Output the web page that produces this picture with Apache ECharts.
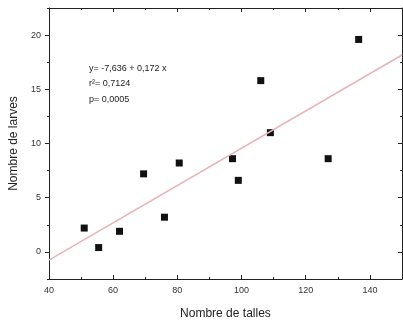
<!DOCTYPE html>
<html>
<head>
<meta charset="utf-8">
<script src="https://cdn.jsdelivr.net/npm/echarts@6/dist/echarts.min.js"></script>
<style>
  html, body { margin: 0; padding: 0; background: #fff; }
  #chart { width: 403px; height: 328px; }
</style>
</head>
<body>
<div id="chart"></div>
<script>
// Tillers per plant vs. larvae count
const talles = [51, 55.5, 62, 69.5, 76, 80.6, 97.2, 99, 106, 109, 127, 136.5];
const larves = [2.2, 0.4, 1.9, 7.2, 3.2, 8.2, 8.6, 6.6, 15.8, 11, 8.6, 19.6];

// Fitted regression: y = intercept + slope * x
const intercept = -7.636;
const slope = 0.172;
const fitRange = [40, 150];
const statLines = ['y= -7,636 + 0,172 x', 'r\u00b2= 0,7124', 'p= 0,0005'];

const xLabelTicks = [40, 60, 80, 100, 120, 140];
const yLabelTicks = [0, 5, 10, 15, 20];
const yMinorTicks = [-2.5, 2.5, 7.5, 12.5, 17.5, 22.5];

const font = '"Liberation Sans", Arial, sans-serif';
const axisColor = '#222';

const points = talles.map((x, i) => [x, larves[i]]);
const fitLine = fitRange.map(x => [x, intercept + slope * x]);

const baseX = {
  type: 'value', min: 40, max: 150, interval: 20,
  splitLine: { show: false },
  axisLine: { show: true, onZero: false, lineStyle: { color: axisColor, width: 1 } },
  axisTick: { show: true, inside: true, length: 4, lineStyle: { color: axisColor } },
  minorTick: { show: true, splitNumber: 2, length: 2, lineStyle: { color: axisColor } },
  minorSplitLine: { show: false }
};
const baseY = {
  type: 'value', min: -2.5, max: 22.5,
  splitLine: { show: false },
  axisLine: { show: true, onZero: false, lineStyle: { color: axisColor, width: 1 } },
  axisTick: { show: true, inside: true, length: 4, customValues: yLabelTicks, lineStyle: { color: axisColor } }
};

const chart = echarts.init(document.getElementById('chart'));
chart.setOption({
  animation: false,
  backgroundColor: '#fff',
  grid: { left: 48, right: 1, top: 8, bottom: 49 },
  xAxis: [
    Object.assign({}, baseX, {
      position: 'bottom',
      name: 'Nombre de talles', nameLocation: 'middle', nameGap: 29,
      nameTextStyle: { fontFamily: font, fontSize: 12, color: '#222' },
      axisLabel: { customValues: xLabelTicks, fontFamily: font, fontSize: 9, color: '#333', margin: 7 }
    }),
    Object.assign({}, baseX, { position: 'top', axisLabel: { show: false } })
  ],
  yAxis: [
    Object.assign({}, baseY, {
      position: 'left',
      name: 'Nombre de larves', nameLocation: 'middle', nameGap: 20,
      nameTextStyle: { fontFamily: font, fontSize: 12, color: '#222' },
      axisTick: { show: true, inside: false, length: 4, customValues: yLabelTicks, lineStyle: { color: axisColor } },
      axisLabel: { customValues: yLabelTicks, fontFamily: font, fontSize: 9, color: '#333', margin: 8 }
    }),
    Object.assign({}, baseY, { position: 'right', axisLabel: { show: false } }),
    Object.assign({}, baseY, {
      position: 'left', axisLine: { show: false }, axisLabel: { show: false },
      axisTick: { show: true, inside: false, length: 2, customValues: yMinorTicks, lineStyle: { color: axisColor } }
    }),
    Object.assign({}, baseY, {
      position: 'right', axisLine: { show: false }, axisLabel: { show: false },
      axisTick: { show: true, inside: true, length: 2, customValues: yMinorTicks, lineStyle: { color: axisColor } }
    })
  ],
  series: [
    {
      type: 'line', data: fitLine, xAxisIndex: 0, yAxisIndex: 0,
      symbol: 'none', silent: true,
      lineStyle: { color: '#e6b4b9', width: 1.5 }
    },
    {
      type: 'scatter', data: points, xAxisIndex: 0, yAxisIndex: 0,
      symbol: 'rect', symbolSize: 7,
      itemStyle: { color: '#111', opacity: 1 }
    }
  ],
  graphic: statLines.map((t, i) => ({
    type: 'text', left: 89, top: 64 + i * 15.5,
    style: { text: t, font: '9px ' + font, fill: '#222' }
  }))
});
</script>
</body>
</html>
